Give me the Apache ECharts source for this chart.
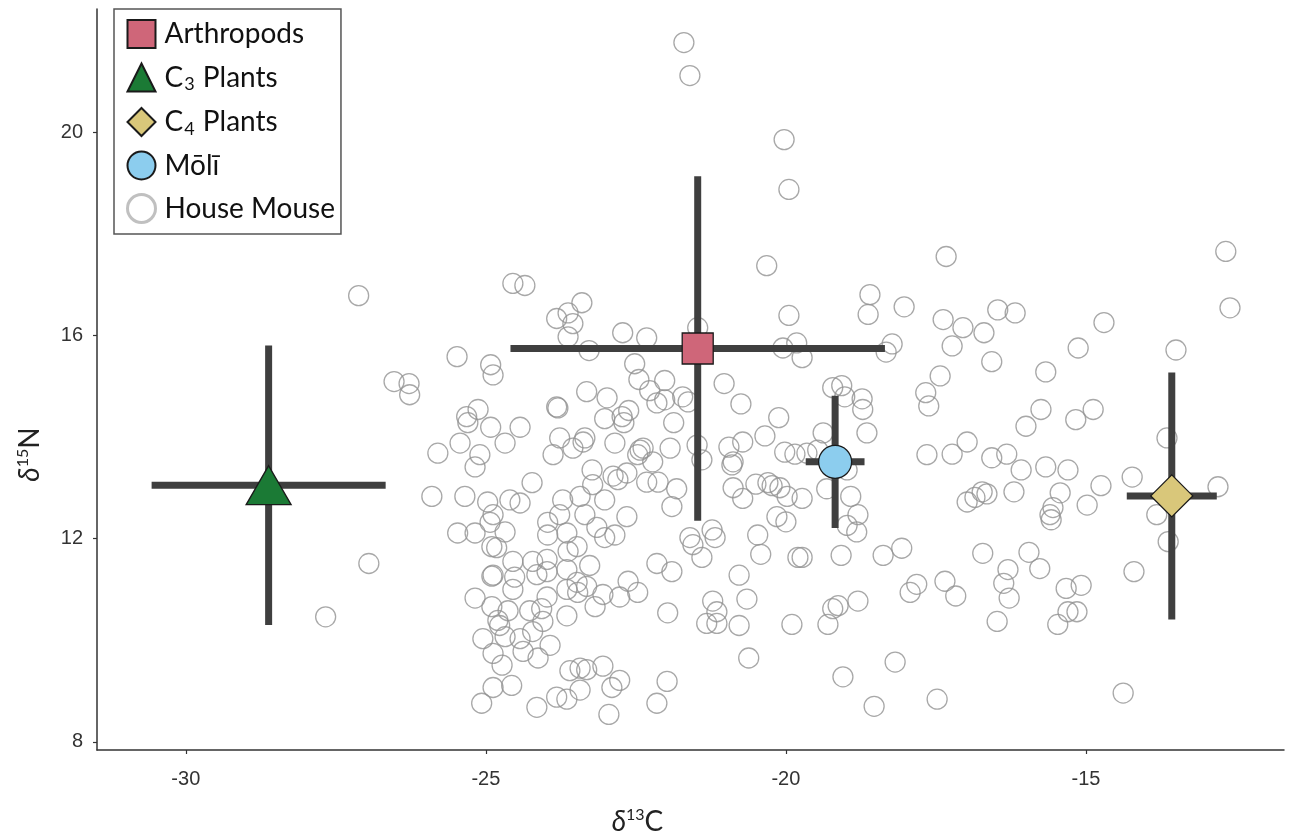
<!DOCTYPE html>
<html>
<head>
<meta charset="utf-8">
<script src="https://cdn.jsdelivr.net/npm/echarts@6/dist/echarts.min.js"></script>
<style>
  html, body { margin: 0; padding: 0; background: #ffffff; }
  #chart { width: 1290px; height: 833px; }
</style>
</head>
<body>
<div id="chart"></div>
<script>
// group means and error bars (delta13C, delta15N)
const groupNames = ["Arthropods", "C3 Plants", "C4 Plants", "Mōlī"];
const groupMeanX = [-21.47, -28.62, -13.57, -19.18];
const groupMeanY = [15.74, 13.05, 12.84, 13.51];
const groupSdX = [3.12, 1.95, 0.75, 0.49];
const groupSdY = [3.39, 2.75, 2.43, 1.30];

const xTicks = [-30, -25, -20, -15];
const yTicks = [8, 12, 16, 20];

// house mouse individuals [delta13C, delta15N]
const mouseData = [
  [-27.12, 16.78], [-26.53, 15.09], [-26.28, 15.05], [-26.27, 14.83], [-26.95, 11.51], [-27.67, 10.46],
  [-21.70, 21.76], [-21.60, 21.11],
  [-24.55, 17.02], [-24.35, 16.98], [-23.40, 16.64], [-23.63, 16.44], [-23.82, 16.33], [-23.55, 16.23],
  [-23.63, 15.97], [-22.72, 16.05], [-22.32, 15.95], [-23.28, 15.70], [-21.47, 16.15], [-25.48, 15.58],
  [-24.92, 15.42], [-24.88, 15.22], [-22.52, 15.44], [-22.45, 15.13], [-22.02, 15.11], [-22.27, 14.91],
  [-21.03, 15.05], [-23.32, 14.89], [-22.98, 14.77], [-23.82, 14.59], [-23.80, 14.57], [-22.02, 14.73],
  [-22.15, 14.67], [-21.72, 14.79], [-21.63, 14.69], [-25.13, 14.54], [-25.32, 14.40], [-25.30, 14.28],
  [-22.62, 14.52], [-22.73, 14.40], [-22.70, 14.28], [-23.02, 14.36], [-21.87, 14.28], [-24.92, 14.19],
  [-24.43, 14.19], [-25.43, 13.88], [-24.68, 13.88], [-25.80, 13.68], [-23.77, 13.98], [-23.35, 13.98],
  [-23.38, 13.90], [-23.88, 13.65], [-23.55, 13.78], [-22.85, 13.88], [-22.43, 13.74], [-22.38, 13.78],
  [-22.47, 13.65], [-22.22, 13.51], [-21.93, 13.78], [-21.48, 13.84], [-21.40, 13.55], [-25.10, 13.65],
  [-25.18, 13.41], [-24.23, 13.10], [-23.23, 13.35], [-22.88, 13.23], [-22.65, 13.29], [-22.80, 13.16],
  [-23.22, 13.06], [-22.32, 13.11], [-22.13, 13.11], [-21.82, 12.98], [-25.90, 12.83], [-25.35, 12.83],
  [-24.97, 12.72], [-24.60, 12.76], [-24.43, 12.70], [-23.72, 12.76], [-23.43, 12.83], [-23.02, 12.76],
  [-21.90, 12.63], [-25.47, 12.11], [-25.18, 12.11], [-24.93, 12.32], [-24.88, 12.47], [-24.68, 12.13],
  [-24.90, 11.84], [-24.82, 11.82], [-23.97, 12.32], [-23.77, 12.47], [-23.97, 12.07], [-23.65, 12.11],
  [-23.35, 12.47], [-23.15, 12.22], [-23.02, 12.02], [-22.85, 12.07], [-22.65, 12.43], [-23.48, 11.84],
  [-23.63, 11.75], [-24.55, 11.55], [-24.22, 11.55], [-23.98, 11.59], [-24.90, 11.26], [-24.88, 11.28],
  [-24.52, 11.24], [-24.15, 11.29], [-23.98, 11.35], [-23.65, 11.39], [-23.27, 11.47], [-23.48, 11.14],
  [-23.47, 10.94], [-23.32, 11.06], [-24.55, 11.00], [-23.98, 10.85], [-23.65, 11.00], [-23.05, 10.90],
  [-23.18, 10.66], [-22.77, 10.85], [-22.63, 11.16], [-22.47, 10.94], [-22.15, 11.51], [-21.90, 11.35],
  [-21.60, 12.02], [-21.55, 11.88], [-21.40, 11.63], [-21.23, 12.17], [-21.22, 10.77], [-21.32, 10.33],
  [-21.97, 10.54], [-25.18, 10.83], [-24.90, 10.66], [-24.63, 10.58], [-24.80, 10.39], [-24.77, 10.29],
  [-24.27, 10.58], [-24.07, 10.62], [-23.65, 10.48], [-24.05, 10.37], [-25.05, 10.03], [-24.68, 10.07],
  [-24.43, 10.03], [-24.22, 10.17], [-23.93, 9.90], [-24.38, 9.78], [-24.88, 9.74], [-24.13, 9.65],
  [-24.73, 9.51], [-23.60, 9.40], [-23.43, 9.45], [-23.32, 9.42], [-23.05, 9.49], [-23.43, 9.02],
  [-22.90, 9.07], [-22.77, 9.21], [-23.65, 8.84], [-23.82, 8.88], [-24.88, 9.07], [-24.57, 9.11],
  [-25.07, 8.76], [-24.15, 8.68], [-22.95, 8.54], [-21.98, 9.19], [-22.15, 8.76],
  [-20.03, 19.85], [-19.95, 18.87], [-20.32, 17.37], [-17.33, 17.55], [-18.60, 16.80], [-18.63, 16.41],
  [-18.03, 16.56], [-19.95, 16.39], [-20.05, 15.75], [-19.82, 15.85], [-19.73, 15.56], [-18.23, 15.83],
  [-18.33, 15.67], [-17.38, 16.31], [-17.05, 16.15], [-16.70, 16.05], [-17.23, 15.79], [-16.47, 16.50],
  [-16.57, 15.48], [-20.75, 14.65], [-17.43, 15.20], [-17.67, 14.87], [-17.62, 14.61], [-19.22, 14.97],
  [-19.07, 15.01], [-19.02, 14.79], [-18.73, 14.75], [-18.72, 14.54], [-20.12, 14.38],
  [-20.35, 14.02], [-20.72, 13.90], [-20.95, 13.80], [-20.88, 13.51], [-20.90, 13.45], [-20.02, 13.70],
  [-19.85, 13.66], [-19.65, 13.68], [-19.38, 14.08], [-19.47, 13.74], [-18.65, 14.08], [-18.98, 13.35],
  [-19.32, 12.98], [-20.88, 13.00], [-20.72, 12.79], [-20.50, 13.07], [-20.30, 13.10], [-20.23, 13.04],
  [-20.10, 13.00], [-19.98, 12.83], [-19.73, 12.79], [-20.15, 12.43], [-20.00, 12.33], [-18.92, 12.83],
  [-18.80, 12.47], [-18.98, 12.26], [-18.82, 12.13], [-21.18, 12.02], [-20.47, 12.07], [-20.42, 11.69],
  [-19.80, 11.63], [-19.73, 11.63], [-19.08, 11.67], [-18.38, 11.67], [-18.07, 11.81], [-20.78, 11.28],
  [-21.15, 10.56], [-20.65, 10.81], [-21.15, 10.33], [-20.78, 10.29], [-19.90, 10.31], [-19.30, 10.31],
  [-19.22, 10.62], [-19.13, 10.68], [-18.80, 10.77], [-17.93, 10.94], [-17.82, 11.10], [-17.35, 11.16],
  [-17.17, 10.87], [-17.65, 13.65], [-17.23, 13.66], [-16.98, 13.90], [-16.57, 13.59], [-16.98, 12.72],
  [-16.85, 12.81], [-16.73, 12.92], [-16.65, 12.88], [-16.72, 11.71], [-20.62, 9.65], [-19.05, 9.28],
  [-18.18, 9.57], [-18.53, 8.70], [-17.48, 8.84], [-16.48, 10.37], [-16.37, 11.12],
  [-12.67, 17.65], [-12.60, 16.54], [-13.50, 15.71], [-14.70, 16.25], [-15.13, 15.75], [-15.67, 15.28],
  [-16.18, 16.44], [-15.75, 14.54], [-16.00, 14.21], [-15.17, 14.34], [-14.88, 14.54], [-16.32, 13.66],
  [-16.08, 13.35], [-15.67, 13.41], [-15.30, 13.35], [-14.75, 13.04], [-14.23, 13.21], [-13.65, 13.98],
  [-12.80, 13.02], [-16.20, 12.92], [-15.43, 12.90], [-14.98, 12.66], [-15.55, 12.61], [-15.60, 12.47],
  [-13.82, 12.47], [-15.58, 12.37], [-13.63, 11.94], [-15.95, 11.73], [-16.30, 11.39], [-15.77, 11.41],
  [-16.28, 10.83], [-15.33, 11.02], [-15.08, 11.08], [-15.30, 10.56], [-15.15, 10.56], [-15.47, 10.31],
  [-14.20, 11.35], [-14.38, 8.96]
];

const groupStyles = [
  { symbol: "rect", size: 31, color: "#cf6679" },
  { symbol: "triangle", size: [45, 39], color: "#1b7a35" },
  { symbol: "diamond", size: [42, 42], color: "#d9c77a" },
  { symbol: "circle", size: 33, color: "#8ccdee" },
];

const chart = echarts.init(document.getElementById("chart"));

let errorData = groupNames.map((n, i) => [
  groupMeanX[i], groupMeanY[i],
  groupMeanX[i] - groupSdX[i], groupMeanX[i] + groupSdX[i],
  groupMeanY[i] - groupSdY[i], groupMeanY[i] + groupSdY[i],
]);

let seriesList = [
  {
    name: "House Mouse",
    type: "scatter",
    symbol: "circle",
    symbolSize: 20,
    z: 1,
    itemStyle: { color: "rgba(255,255,255,0)", borderColor: "#929292", borderWidth: 1.3 },
    data: mouseData,
  },
  {
    type: "custom",
    z: 2,
    silent: true,
    renderItem: function (params, api) {
      let y = api.value(1);
      let x = api.value(0);
      let a = api.coord([api.value(2), y]);
      let b = api.coord([api.value(3), y]);
      let c = api.coord([x, api.value(4)]);
      let d = api.coord([x, api.value(5)]);
      let st = { stroke: "#3f3f3f", lineWidth: 7 };
      return {
        type: "group",
        children: [
          { type: "line", shape: { x1: a[0], y1: a[1], x2: b[0], y2: b[1] }, style: st },
          { type: "line", shape: { x1: c[0], y1: c[1], x2: d[0], y2: d[1] }, style: st },
        ],
      };
    },
    data: errorData,
  },
];

groupNames.forEach((name, i) => {
  let s = groupStyles[i];
  seriesList.push({
    name: name,
    type: "scatter",
    symbol: s.symbol,
    symbolSize: s.size,
    z: 3,
    itemStyle: { color: s.color, borderColor: "#1a1a1a", borderWidth: 1.3, opacity: 1 },
    data: [[groupMeanX[i], groupMeanY[i]]],
  });
});

const labelFont = { fontFamily: "Liberation Sans", fontSize: 20, color: "#333" };

const nameRich = {
  d: { fontFamily: "Lato", fontStyle: "italic", fontSize: 28, color: "#222" },
  s: { fontFamily: "Lato", fontSize: 16, color: "#222", padding: [0, 0, 14, 0] },
  t: { fontFamily: "Lato", fontSize: 28, color: "#222" },
};

let option = {
  backgroundColor: "#ffffff",
  animation: false,
  grid: { left: 97, right: 6, top: 9, bottom: 83, containLabel: false, outerBoundsMode: "none" },
  legend: {
    orient: "vertical",
    left: 114,
    top: 9,
    padding: [10, 6, 10, 12],
    itemGap: 12.5,
    itemWidth: 28,
    itemHeight: 28,
    borderColor: "#555",
    borderWidth: 1.5,
    borderRadius: 0,
    backgroundColor: "#ffffff",
    data: [
      { name: "Arthropods", icon: "rect" },
      { name: "C3 Plants", icon: "triangle" },
      { name: "C4 Plants", icon: "diamond" },
      { name: "Mōlī", icon: "circle" },
      { name: "House Mouse", icon: "circle", itemStyle: { color: "#ffffff", borderColor: "#b0b0b0", borderWidth: 3 } },
    ],
    formatter: function (name) {
      if (name === "C3 Plants") return "{t|C}{sub|3}{t| Plants}";
      if (name === "C4 Plants") return "{t|C}{sub|4}{t| Plants}";
      return "{t|" + name + "}";
    },
    textStyle: {
      fontFamily: "Lato",
      fontSize: 28,
      lineHeight: 28,
      color: "#111",
      padding: [0, 0, 0, 4],
      rich: {
        t: { fontFamily: "Lato", fontSize: 28, lineHeight: 28, color: "#111" },
        sub: { fontFamily: "Lato", fontSize: 18, lineHeight: 28, color: "#111", padding: [14, 1, 0, 1] },
      },
    },
  },
  xAxis: {
    type: "value",
    min: -31.48,
    max: -11.70,
    name: "{d|δ}{s|13}{t|C}",
    nameLocation: "middle",
    nameGap: 57,
    nameTextStyle: { padding: [0, 106, 0, 0], rich: nameRich },
    splitLine: { show: false },
    axisLine: { onZero: false, lineStyle: { color: "#333", width: 1.5 } },
    axisTick: { show: true, length: 4, customValues: xTicks, lineStyle: { color: "#333", width: 1.2 } },
    axisLabel: Object.assign({ margin: 19, customValues: xTicks }, labelFont),
  },
  yAxis: {
    type: "value",
    min: 7.84,
    max: 22.42,
    name: "{d|δ}{s|15}{t|N}",
    nameLocation: "middle",
    nameGap: 52,
    nameTextStyle: { padding: [0, 150, 0, 0], rich: nameRich },
    splitLine: { show: false },
    axisLine: { onZero: false, lineStyle: { color: "#333", width: 1.5 } },
    axisTick: { show: true, length: 4, customValues: yTicks, lineStyle: { color: "#333", width: 1.2 } },
    axisLabel: Object.assign({ margin: 14, customValues: yTicks }, labelFont),
  },
  series: seriesList,
};

chart.setOption(option);
</script>
</body>
</html>
